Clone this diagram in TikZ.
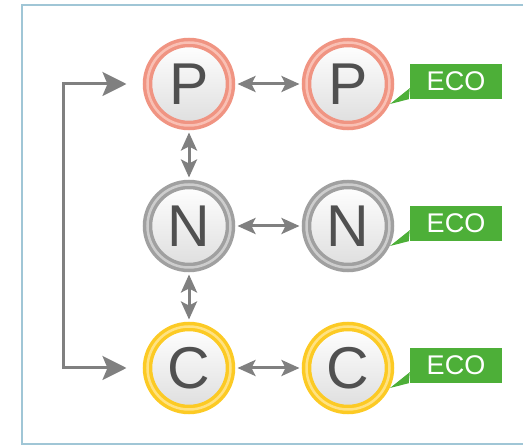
\documentclass[tikz,border=0pt]{standalone}
\usepackage{fontspec}
\setmainfont{Liberation Sans}
\usetikzlibrary{arrows.meta}
\definecolor{framecol}{RGB}{160,198,214}
\definecolor{pring}{RGB}{240,148,130}
\definecolor{plight}{RGB}{249,192,180}
\definecolor{nring}{RGB}{160,160,160}
\definecolor{nlight}{RGB}{205,205,205}
\definecolor{cring}{RGB}{252,202,36}
\definecolor{clight}{RGB}{255,226,130}
\definecolor{ecogreen}{RGB}{77,175,56}
\definecolor{arrowgray}{RGB}{128,128,128}
\definecolor{lettergray}{RGB}{80,80,80}
\begin{document}
\begin{tikzpicture}[x=1pt,y=-1pt,
		ball/.style={circle,inner sep=0pt,minimum size=83pt,outer sep=7pt,
			line width=3.5pt,double distance=2.5pt,
			shading=axis,top color=white,bottom color=black!13,
			text=lettergray,font=\fontsize{59}{59}\selectfont},
		pball/.style={ball,draw=pring,double=plight},
		nball/.style={ball,draw=nring,double=nlight},
		cball/.style={ball,draw=cring,double=clight},
		eco/.style={fill=ecogreen,text=white,minimum width=92pt,minimum height=35pt,
			inner sep=0pt,font=\fontsize{27}{27}\selectfont},
		link/.style={draw=arrowgray,line width=3pt,
			{Stealth[length=18pt,width=16pt,inset=4pt]}-{Stealth[length=18pt,width=16pt,inset=4pt]}},
		loop/.style={draw=arrowgray,line width=3pt,
			{Stealth[length=24pt,width=24pt,inset=5pt]}-{Stealth[length=24pt,width=24pt,inset=5pt]}}]
				\useasboundingbox (0,0) rectangle (523,446);
				\draw[framecol,line width=2pt] (22,5) rectangle (540,444);
				% first column
				\node[name=p1,pball] at (189,84){P};
				\node[name=n1,nball] at (189,226){N};
				\node[name=c1,cball] at (189,368){C};
				% second column
				\node[name=p2,pball] at (348,84){P};
				\node[name=n2,nball] at (348,226){N};
				\node[name=c2,cball] at (348,368){C};
				% labels
				\node[name=eco1,eco] at (456,81.5){ECO};
				\node[name=eco2,eco] at (456,223.5){ECO};
				\node[name=eco3,eco] at (456,365.5){ECO};
				\coordinate (t1) at (390,104);
				\coordinate (t2) at (390,246);
				\coordinate (t3) at (390,388);
				\fill[ecogreen] ([yshift=11pt]eco1.south west) -- (t1) -- ([xshift=-1pt]eco1.south west) -- cycle;
				\fill[ecogreen] ([yshift=11pt]eco2.south west) -- (t2) -- ([xshift=-1pt]eco2.south west) -- cycle;
				\fill[ecogreen] ([yshift=11pt]eco3.south west) -- (t3) -- ([xshift=-1pt]eco3.south west) -- cycle;
				% arrows
				\draw[link] (p1) -- (p2);
				\draw[link] (n1) -- (n2);
				\draw[link] (c1) -- (c2);
				\draw[link] (p1) -- (n1);
				\draw[link] (n1) -- (c1);
				\draw[loop] ([xshift=-14pt]p1.west) -- ++(-63,0) |- ([xshift=-14pt]c1.west);
			\end{tikzpicture}
\end{document}
